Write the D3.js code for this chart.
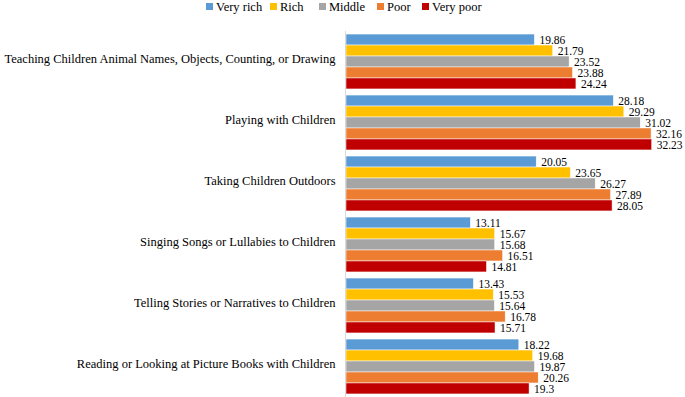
<html>
<head>
<meta charset="utf-8">
<title>Parenting activities by wealth</title>
<style>
  body { margin: 0; background: #fff; }
  svg { display: block; }
  svg text { font-family: "Liberation Serif", Tinos, "Times New Roman", Times, "DejaVu Serif", serif; }
</style>
<script src="https://d3js.org/d3.v7.min.js"></script>
</head>
<body>
<script>
var categories = [
  "Teaching Children Animal Names, Objects, Counting, or Drawing",
  "Playing with Children",
  "Taking Children Outdoors",
  "Singing Songs or Lullabies to Children",
  "Telling Stories or Narratives to Children",
  "Reading or Looking at Picture Books with Children"
];
var groups = ["Very rich", "Rich", "Middle", "Poor", "Very poor"];
var veryRich = [19.86, 28.18, 20.05, 13.11, 13.43, 18.22];
var rich     = [21.79, 29.29, 23.65, 15.67, 15.53, 19.68];
var middle   = [23.52, 31.02, 26.27, 15.68, 15.64, 19.87];
var poor     = [23.88, 32.16, 27.89, 16.51, 16.78, 20.26];
var veryPoor = [24.24, 32.23, 28.05, 14.81, 15.71, 19.3];
var labels   = [
  ["19.86", "21.79", "23.52", "23.88", "24.24"],
  ["28.18", "29.29", "31.02", "32.16", "32.23"],
  ["20.05", "23.65", "26.27", "27.89", "28.05"],
  ["13.11", "15.67", "15.68", "16.51", "14.81"],
  ["13.43", "15.53", "15.64", "16.78", "15.71"],
  ["18.22", "19.68", "19.87", "20.26", "19.3"]
];

var series = [veryRich, rich, middle, poor, veryPoor];
var data = categories.map(function(c, i) {
  return {
    cat: c,
    vals: groups.map(function(g, j) { return { key: g, value: series[j][i], label: labels[i][j] }; })
  };
});

var width = 685, height = 397;
var color = d3.scaleOrdinal()
  .domain(groups)
  .range(["#5b9bd5", "#ffc000", "#a5a5a5", "#ed7d31", "#c00000"]);

var x = d3.scaleLinear().domain([0, 35]).range([346, 678]);
var y0 = d3.scaleBand().domain(categories).range([31, 397]).paddingInner(0.1).paddingOuter(0.05);
var y1 = d3.scaleBand().domain(groups).range([0, y0.bandwidth()]);

var svg = d3.select("body").append("svg")
  .attr("width", width)
  .attr("height", height);

// legend
var legX = [206, 270, 319, 377, 422];
var leg = svg.append("g").selectAll("g")
  .data(groups)
  .enter().append("g")
  .attr("transform", function(d, i) { return "translate(" + legX[i] + ",3)"; });
leg.append("rect")
  .attr("width", 7).attr("height", 7)
  .attr("fill", function(d) { return color(d); });
leg.append("text")
  .attr("x", 10).attr("y", 4)
  .attr("dy", "0.35em")
  .style("font-size", "12.5px")
  .attr("fill", "#000")
  .text(function(d) { return d; });

// bars
var g = svg.append("g").selectAll("g")
  .data(data)
  .enter().append("g")
  .attr("transform", function(d) { return "translate(0," + y0(d.cat) + ")"; });

g.selectAll("rect")
  .data(function(d) { return d.vals; })
  .enter().append("rect")
  .attr("x", x(0))
  .attr("y", function(d) { return y1(d.key); })
  .attr("width", function(d) { return x(d.value) - x(0); })
  .attr("height", y1.bandwidth())
  .attr("fill", function(d) { return color(d.key); })
  .attr("stroke", "#fff")
  .attr("stroke-width", 0.5);

g.selectAll("text.val")
  .data(function(d) { return d.vals; })
  .enter().append("text")
  .attr("class", "val")
  .attr("x", function(d) { return x(d.value) + 5; })
  .attr("y", function(d) { return y1(d.key) + y1.bandwidth() / 2; })
  .attr("dy", "0.36em")
  .style("font-size", "11.5px")
  .text(function(d) { return d.label; });

// category axis
var yAxis = d3.axisLeft(y0).tickSize(0).tickPadding(10);
var ax = svg.append("g")
  .attr("transform", "translate(345.5,0)")
  .call(yAxis)
  .attr("font-family", null)
  .attr("font-size", null);
ax.select(".domain").attr("stroke", "#d9d9d9").attr("d", "M0,31V397");
ax.selectAll("text")
  .attr("dy", "0.1em")
  .style("font-size", "12.5px")
  .attr("fill", "#000");
</script>
</body>
</html>
